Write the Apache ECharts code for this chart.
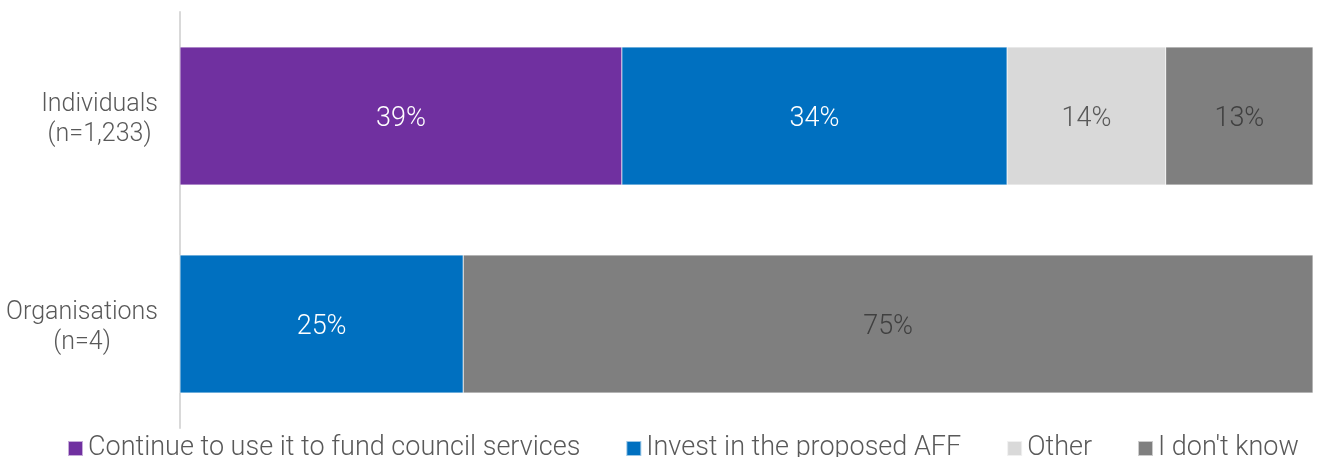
<!DOCTYPE html>
<html>
<head>
<meta charset="utf-8">
<script src="https://cdn.jsdelivr.net/npm/echarts@6/dist/echarts.min.js"></script>
<style>
html,body{margin:0;padding:0;background:#fff;}
#chart{width:1317px;height:457px;}
</style>
</head>
<body>
<div id="chart"></div>
<script>
// Respondent groups (top to bottom)
const categories = ['Individuals\n(n=1,233)', 'Organisations\n(n=4)'];
// Share of responses per option, in percent
const continueFunding = [39, 0];
const investAFF = [34, 25];
const other = [14, 0];
const dontKnow = [13, 75];

const seriesNames = ['Continue to use it to fund council services', 'Invest in the proposed AFF', 'Other', "I don't know"];
const seriesData = [continueFunding, investAFF, other, dontKnow];
const colors = ['#7030A0', '#0070C0', '#D9D9D9', '#7F7F7F'];
const labelColors = ['#ffffff', '#ffffff', '#595959', '#404040'];

const FONT = 'Roboto';

const chart = echarts.init(document.getElementById('chart'), null, {renderer: 'canvas'});
chart.setOption({
  animation: false,
  textStyle: {fontFamily: FONT},
  grid: {left: 180, right: 4, top: 12, bottom: 29, containLabel: false},
  legend: {
    top: 430,
    left: 62,
    width: 1300,
    itemWidth: 15,
    itemHeight: 15,
    itemGap: 45,
    icon: 'rect',
    textStyle: {fontFamily: FONT, fontWeight: 300, fontSize: 27, color: '#595959'},
    data: seriesNames
  },
  xAxis: {
    type: 'value', min: 0, max: 100, show: false
  },
  yAxis: {
    type: 'category',
    inverse: true,
    data: categories,
    axisLine: {show: true, lineStyle: {color: '#D9D9D9', width: 2}},
    axisTick: {show: false},
    axisLabel: {
      align: 'right',
      margin: 22,
      padding: [8, 0, 0, 0],
      // each line centred within the right-aligned label block
      formatter: v => v.split('\n').map(s => '{a|' + s + '}').join('\n'),
      rich: {
        a: {fontFamily: FONT, fontWeight: 300, fontSize: 25, color: '#595959', lineHeight: 30, align: 'center'}
      }
    }
  },
  series: seriesNames.map((name, i) => ({
    name: name,
    type: 'bar',
    stack: 'total',
    barWidth: 138,
    data: seriesData[i],
    itemStyle: {color: colors[i], borderColor: 'rgba(255,255,255,0.6)', borderWidth: 0.5},
    label: {
      show: true,
      position: 'inside',
      fontFamily: FONT, fontWeight: 300, fontSize: 27,
      color: labelColors[i],
      offset: [0, 3],
      formatter: p => p.value > 0 ? p.value + '%' : ''
    }
  }))
});
</script>
</body>
</html>
